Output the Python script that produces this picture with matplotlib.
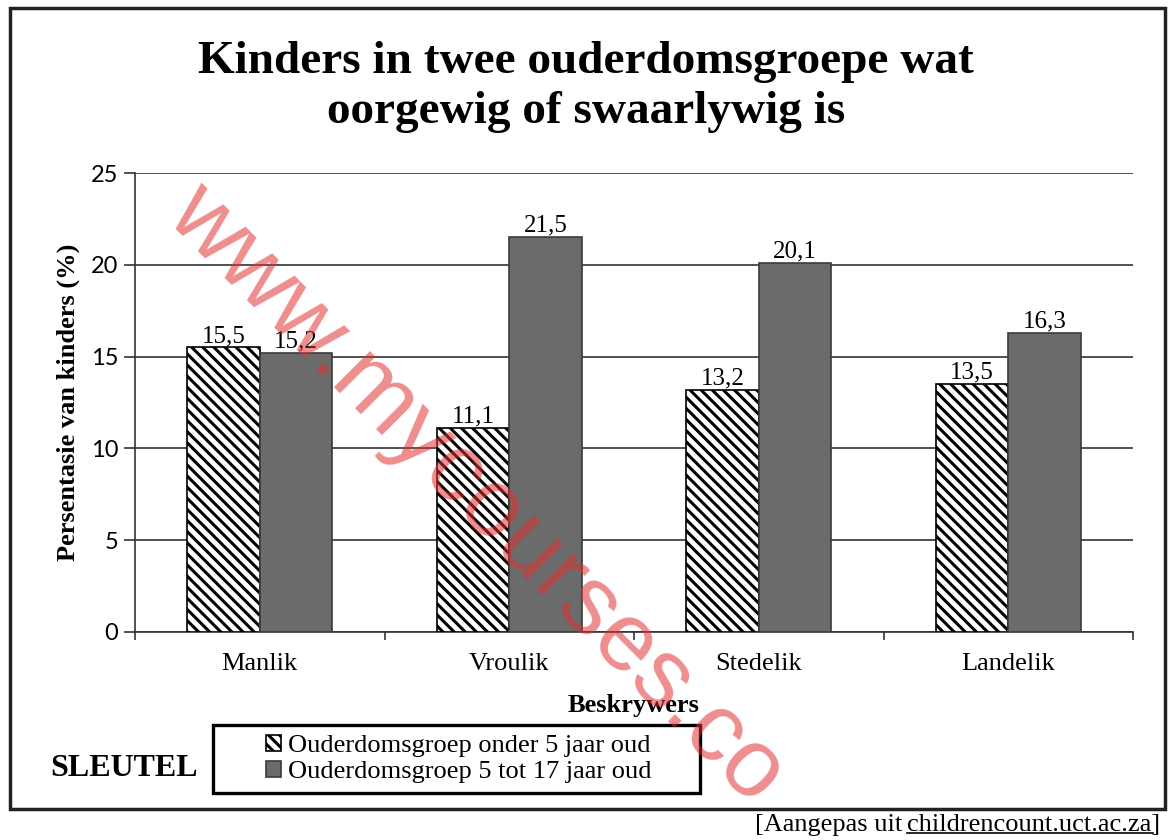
import numpy as np
import matplotlib
matplotlib.use("Agg")
import matplotlib.pyplot as plt
from matplotlib.patches import Rectangle

categories = ["Manlik", "Vroulik", "Stedelik", "Landelik"]
under5 = [15.5, 11.1, 13.2, 13.5]
age5to17 = [15.2, 21.5, 20.1, 16.3]
series_labels = ["Ouderdomsgroep onder 5 jaar oud", "Ouderdomsgroep 5 tot 17 jaar oud"]
yticks = [0, 5, 10, 15, 20, 25]

W, H = 1173, 840
SERIF = "Liberation Serif"
plt.rcParams["hatch.linewidth"] = 2.2

fig = plt.figure(figsize=(W / 100, H / 100), dpi=100)

def fx(px):
    return px / W

def fy(py):
    return 1 - py / H

# outer frame
fig.patches.append(Rectangle((fx(10), fy(809)), fx(1165) - fx(10), fy(8) - fy(809),
                             transform=fig.transFigure, fill=False, lw=2.5, ec="#222222"))

ax = fig.add_axes([fx(135), fy(632), fx(1133) - fx(135), fy(173) - fy(632)])
x = np.arange(len(categories))
w = 0.29
b1 = ax.bar(x - w / 2, under5, w, facecolor="white", edgecolor="black", hatch="\\\\\\", lw=1.2, zorder=3)
b2 = ax.bar(x + w / 2, age5to17, w, facecolor="#6b6b6b", edgecolor="#3a3a3a", lw=1.2, zorder=3)

for xi, v in zip(x - w / 2, under5):
    ax.text(xi, v + 0.02, f"{v:.1f}".replace(".", ","), ha="center", va="bottom",
            fontsize=18, family=SERIF, zorder=4)
for xi, v in zip(x + w / 2, age5to17):
    ax.text(xi, v + 0.02, f"{v:.1f}".replace(".", ","), ha="center", va="bottom",
            fontsize=18, family=SERIF, zorder=4)

ax.set_xlim(-0.5, 3.5)
ax.set_ylim(0, 25)
ax.set_yticks(yticks)
ax.set_yticklabels([str(t) for t in yticks], family="Lato", fontsize=17)
ax.tick_params(axis="y", length=8, width=1.2, color="#333333", pad=4)
ax.set_xticks(x)
ax.set_xticklabels(categories, family=SERIF, fontsize=19)
ax.tick_params(axis="x", which="major", length=0, pad=15)
ax.set_xticks(np.arange(-0.5, 4.0, 1.0), minor=True)
ax.tick_params(axis="x", which="minor", length=6, width=1.2, color="#333333")
ax.yaxis.grid(True, color="#333333", lw=1.2, zorder=0)
for s in ["top", "right"]:
    ax.spines[s].set_visible(False)
ax.spines["left"].set_linewidth(1.2)
ax.spines["bottom"].set_linewidth(1.2)
ax.spines["left"].set_color("#333333")
ax.spines["bottom"].set_color("#333333")

ax.set_ylabel("Persentasie van kinders (%)", family=SERIF, fontweight="bold", fontsize=19, labelpad=8)
ax.set_xlabel("Beskrywers", family=SERIF, fontweight="bold", fontsize=19, labelpad=14)

fig.text(fx(586), fy(87), "Kinders in twee ouderdomsgroepe wat\noorgewig of swaarlywig is",
         ha="center", va="center", family=SERIF, fontweight="bold", fontsize=34, linespacing=1.22)

# legend ("SLEUTEL") box
fig.patches.append(Rectangle((fx(213), fy(793)), fx(700) - fx(213), fy(725) - fy(793),
                             transform=fig.transFigure, fill=False, lw=2.4, ec="black"))
leg = fig.legend([b1[0], b2[0]], series_labels, loc="center left",
                 bbox_to_anchor=(fx(266), fy(759)), prop={"family": SERIF, "size": 19},
                 frameon=False, handlelength=0.55, handleheight=0.55, handletextpad=0.3,
                 borderpad=0, labelspacing=0.15, borderaxespad=0)

fig.text(fx(50), fy(768), "SLEUTEL", ha="left", va="center", family=SERIF,
         fontweight="bold", fontsize=23)

cap = fig.text(fx(1160), fy(825), "childrencount.uct.ac.za]", ha="right", va="center",
               family=SERIF, fontsize=19)
fig.canvas.draw()
bb = cap.get_window_extent()
fig.text((bb.x0 - 5) / W, fy(825), "[Aangepas uit", ha="right", va="center",
         family=SERIF, fontsize=19)
# underline under the url (without the closing bracket)
fig.add_artist(plt.Line2D([bb.x0 / W, (bb.x1 - 7) / W], [(bb.y0 + 3) / H] * 2,
                          transform=fig.transFigure, color="black", lw=1.2))

# watermark
fig.text(fx(182), fy(200), "www.mycourses.co", rotation=-45, rotation_mode="anchor",
         ha="left", va="center", family="Liberation Sans", fontsize=70,
         color="#e03030", alpha=0.55, zorder=10)

fig.savefig("out.png", dpi=100)
